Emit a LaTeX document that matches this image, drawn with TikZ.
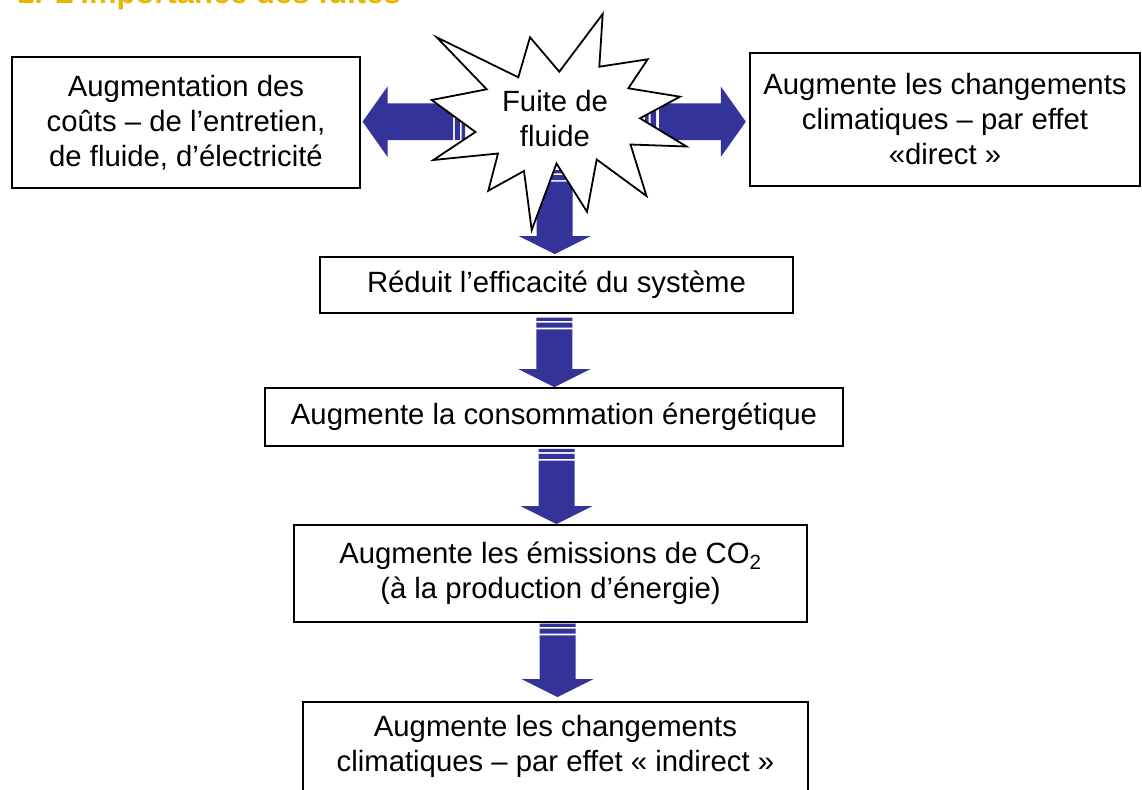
\documentclass[tikz,border=0pt]{standalone}
\usepackage{fontspec}
\setmainfont{Liberation Sans}
\usetikzlibrary{calc}
\definecolor{arrowblue}{RGB}{51,51,153}
\definecolor{titlegold}{RGB}{232,184,0}
% vertical striped arrow: #1 tail point, #2 tip point (only its y is used)
\newcommand{\StripedDown}[2]{%
  \fill[arrowblue] let \p1=(#1), \p2=(#2) in
    (\x1-18pt,\y1) rectangle (\x1+18pt,\y1-3.3pt)
    (\x1-18pt,\y1-5pt) rectangle (\x1+18pt,\y1-10pt)
    (\x1-18pt,\y1-11.7pt) -- (\x1-18pt,\y2+18pt) -- (\x1-36pt,\y2+18pt) -- (\x1,\y2)
      -- (\x1+36pt,\y2+18pt) -- (\x1+18pt,\y2+18pt) -- (\x1+18pt,\y1-11.7pt) -- cycle;}
% horizontal striped arrow pointing left
\newcommand{\StripedLeft}[2]{%
  \fill[arrowblue] let \p1=(#1), \p2=(#2) in
    (\x1,\y1-18.3pt) rectangle (\x1-3.5pt,\y1+18.3pt)
    (\x1-5.2pt,\y1-18.3pt) rectangle (\x1-10.2pt,\y1+18.3pt)
    (\x1-12pt,\y1-18.3pt) -- (\x2+25pt,\y1-18.3pt) -- (\x2+25pt,\y1-35.3pt) -- (\x2,\y1)
      -- (\x2+25pt,\y1+35.3pt) -- (\x2+25pt,\y1+18.3pt) -- (\x1-12pt,\y1+18.3pt) -- cycle;}
% horizontal striped arrow pointing right
\newcommand{\StripedRight}[2]{%
  \fill[arrowblue] let \p1=(#1), \p2=(#2) in
    (\x1,\y1-18.3pt) rectangle (\x1+3.5pt,\y1+18.3pt)
    (\x1+5.5pt,\y1-18.3pt) rectangle (\x1+11pt,\y1+18.3pt)
    (\x1+14pt,\y1-18.3pt) -- (\x2-25pt,\y1-18.3pt) -- (\x2-25pt,\y1-35.3pt) -- (\x2,\y1)
      -- (\x2-25pt,\y1+35.3pt) -- (\x2-25pt,\y1+18.3pt) -- (\x1+14pt,\y1+18.3pt) -- cycle;}
\begin{document}
\begin{tikzpicture}[x=1pt,y=-1pt,
  box/.style={draw=black, line width=1.8pt, fill=white, inner sep=0pt, align=center,
    font=\fontsize{29.3}{35}\selectfont},
  startext/.style={inner sep=0pt, align=center, font=\fontsize{29.3}{35}\selectfont},
  starshape/.style={draw=black, line width=1.8pt, fill=white, line join=miter},
  titletext/.style={anchor=base west, inner sep=0pt, text=titlegold,
    font=\fontsize{31}{36}\selectfont\bfseries}]
\useasboundingbox (0,0) rectangle (1142,789);
\fill[white] (0,0) rectangle (1142,789);

\node[titletext] (title) at (17,4) {1. L’importance des fuites};

% boxes
\node[box, minimum width=348, minimum height=131] (left) at (186,122.5)
  {Augmentation des\\coûts – de l’entretien,\\de fluide, d’électricité};
\node[box, minimum width=390, minimum height=133] (right) at (945,119.5)
  {Augmente les changements\\climatiques – par effet\\«direct »};
\node[box, minimum width=473, minimum height=56] (reduit) at (556.5,285)
  {Réduit l’efficacité du système};
\node[box, minimum width=578, minimum height=58] (conso) at (554,417)
  {Augmente la consommation énergétique};
\node[box, minimum width=513, minimum height=97] (co2) at (550.5,573.5)
  {Augmente les émissions de CO\textsubscript{2}\\ (à la production d’énergie)};
\node[box, minimum width=505, minimum height=89] (last) at (555.5,746.5)
  {Augmente les changements\\climatiques – par effet « indirect »};

\coordinate (starc) at (555,119);

% arrows
\StripedLeft{$(starc)+(-90,2.7)$}{$(left.east)+(1.7,0)$}
\StripedRight{$(starc)+(90,2.7)$}{$(right.west)+(-3.3,0)$}
\StripedDown{$(starc)+(-0.3,51)$}{$(reduit.north)+(0,-2)$}
\StripedDown{$(reduit.south)+(-2.2,3.7)$}{conso.north}
\StripedDown{$(conso.south)+(2.5,2)$}{co2.north}
\StripedDown{$(co2.south)+(7,0.7)$}{$(last.north)+(0,-4)$}

% star
\draw[starshape] (530,37.3) -- (559.3,71.7) -- (602.7,14) -- (599.3,66.7)
  -- (647.7,59.3) -- (628.3,88.3) -- (680,96.7) -- (640,118.3)
  -- (686.5,146.5) -- (630.5,144.5) -- (646.5,196) -- (596.7,159.5)
  -- (587,211.7) -- (556.5,163.5) -- (531.7,230) -- (524,171)
  -- (488.3,190.7) -- (498,153.5) -- (433.3,160) -- (475.5,132)
  -- (431.7,100) -- (486.7,89.3) -- (436.7,37.3) -- (518.3,77.3) -- cycle;
\node[startext] (star) at (starc) {Fuite de\\fluide};
\end{tikzpicture}
\end{document}
